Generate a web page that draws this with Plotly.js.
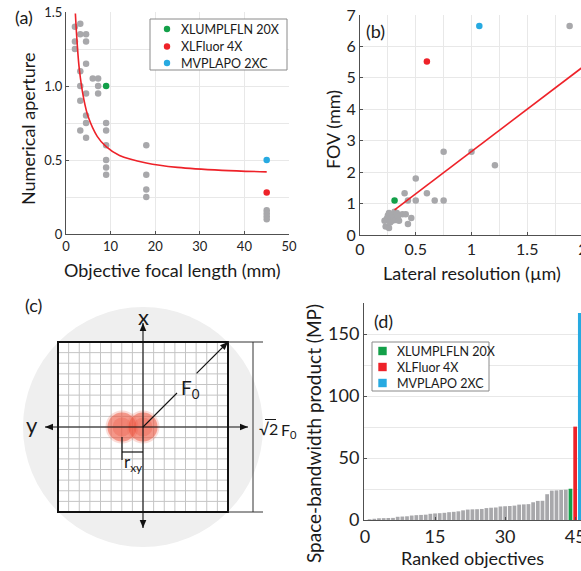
<!DOCTYPE html>
<html>
<head>
<meta charset="utf-8">
<script src="https://cdn.plot.ly/plotly-3.0.1.min.js"></script>
<style>
  html, body { margin: 0; padding: 0; overflow: hidden; background: #fff; }
  #fig { width: 600px; height: 571px; }
</style>
</head>
<body>
<div id="fig"></div>
<script>
// ---------- data ----------
// (a) objective focal length (mm) vs numerical aperture
const focalLength = [2, 2, 2, 3.2, 3.2, 3.2, 3.2, 3.2, 3.2, 4.5, 4.5, 4.5, 4.5, 4.5, 4.5, 4.5,
                     6, 7.2, 7.2, 7.2, 9, 9, 9, 9, 9, 9, 18, 18, 18, 18, 45, 45, 45, 45];
const numAperture = [1.40, 1.30, 1.25, 1.42, 1.35, 1.10, 1.00, 0.90, 0.70, 1.35, 1.30, 1.15, 0.95, 0.80, 0.75, 0.65,
                     1.05, 1.05, 1.00, 0.95, 0.75, 0.70, 0.60, 0.50, 0.45, 0.40, 0.60, 0.40, 0.30, 0.25, 0.16, 0.14, 0.12, 0.10];
const fitFocal = [2.1, 2.5, 3, 4, 5, 7, 9, 12, 18, 25, 35, 45];
const fitNA    = [1.49, 1.29, 1.11, 0.91, 0.79, 0.66, 0.59, 0.53, 0.48, 0.45, 0.43, 0.42];

// (b) lateral resolution (um) vs field of view (mm)
const resolution = [1.88, 0.75, 1.00, 1.21, 0.50, 0.40, 0.60, 0.43, 0.50, 0.67, 0.75,
                    0.23, 0.26, 0.22, 0.24, 0.25, 0.26, 0.28, 0.29, 0.30, 0.31, 0.32, 0.33, 0.34, 0.35, 0.38, 0.41, 0.46, 0.43, 0.27];
const fieldOfView = [6.65, 2.65, 2.65, 2.22, 1.80, 1.33, 1.33, 1.10, 1.10, 1.10, 1.10,
                     0.27, 0.22, 0.45, 0.52, 0.62, 0.70, 0.55, 0.45, 0.62, 0.74, 0.48, 0.70, 0.58, 0.45, 0.66, 0.66, 0.54, 0.35, 0.40];
const fitRes = [0.31, 2.0];
const fitFov = [0.80, 5.35];

// (d) space-bandwidth product (MP), ranked
const sbpRanked = [0.6, 1.0, 1.4, 1.5, 1.6, 1.7, 2.6, 2.8, 3.0, 3.6,
                   3.9, 4.1, 4.3, 5.0, 5.3, 5.5, 5.8, 6.3, 6.6, 7.0,
                   7.8, 8.4, 8.6, 8.7, 8.9, 9.6, 9.9, 10.1, 10.9, 11.1,
                   11.3, 11.6, 12.4, 12.6, 12.8, 14.3, 15.4, 15.5, 20.8, 23.7,
                   23.9, 24.2, 24.4];

// highlighted objectives
const hlNames  = ['XLUMPLFLN 20X', 'XLFluor 4X', 'MVPLAPO 2XC'];
const hlColors = ['#13a049', '#ee2229', '#27aae1'];
const hlFocal  = [9, 45, 45];
const hlNA     = [1.00, 0.28, 0.50];
const hlRes    = [0.31, 0.60, 1.07];
const hlFov    = [1.10, 5.52, 6.65];
const hlSbp    = [25.2, 75.3, 167];

// ---------- figure geometry helpers (pixel -> paper) ----------
const W = 600, H = 571;
const px = x => x / W;
const py = y => (H - y) / H;
const FONT = 'Lato, "Open Sans", sans-serif';
const GRID = '#e8e8e8', AXC = '#505050', GRAY = '#a8a8ab', RED = '#ee2229';

function axisBase(extra) {
  return Object.assign({
    showline: true, linecolor: AXC, linewidth: 1,
    ticks: 'inside', ticklen: 3, tickcolor: AXC,
    showgrid: true, gridcolor: GRID, gridwidth: 1,
    zeroline: false, fixedrange: true,
    tickfont: { size: 13, color: '#222' }
  }, extra);
}

const traces = [];

// (a)
traces.push({ type: 'scatter', mode: 'markers', x: focalLength, y: numAperture, xaxis: 'x', yaxis: 'y',
  marker: { size: 6.5, color: GRAY }, hoverinfo: 'skip' });
traces.push({ type: 'scatter', mode: 'lines', x: fitFocal, y: fitNA, xaxis: 'x', yaxis: 'y',
  line: { color: RED, width: 1.6, shape: 'spline', smoothing: 1 }, hoverinfo: 'skip' });
traces.push({ type: 'scatter', mode: 'markers', x: hlFocal, y: hlNA, xaxis: 'x', yaxis: 'y',
  marker: { size: 6.5, color: hlColors }, hoverinfo: 'skip' });

// (b)
traces.push({ type: 'scatter', mode: 'markers', x: resolution, y: fieldOfView, xaxis: 'x2', yaxis: 'y2',
  marker: { size: 6.5, color: GRAY }, hoverinfo: 'skip' });
traces.push({ type: 'scatter', mode: 'lines', x: fitRes, y: fitFov, xaxis: 'x2', yaxis: 'y2',
  line: { color: RED, width: 1.6 }, hoverinfo: 'skip' });
traces.push({ type: 'scatter', mode: 'markers', x: hlRes, y: hlFov, xaxis: 'x2', yaxis: 'y2',
  marker: { size: 6.5, color: hlColors }, hoverinfo: 'skip' });

// (d)
const grayRanks = sbpRanked.map((_, i) => i + 1);
const hlRanks = hlSbp.map((_, i) => sbpRanked.length + i + 1);
traces.push({ type: 'bar', x: grayRanks, y: sbpRanked, xaxis: 'x3', yaxis: 'y3', width: 0.8,
  marker: { color: GRAY, line: { width: 0 } }, hoverinfo: 'skip' });
traces.push({ type: 'bar', x: hlRanks, y: hlSbp, xaxis: 'x3', yaxis: 'y3', width: 0.8,
  marker: { color: hlColors, line: { width: 0 } }, hoverinfo: 'skip' });

// (c) two neighbouring point-spread spots: soft halo, body and bright core
const spotX = [122, 143], spotY = [427, 427];
const spotLayers = [[33, 'rgba(240,110,90,0.35)'], [29, 'rgba(238,84,62,0.72)'], [19, 'rgba(236,70,50,0.35)']];
spotX.forEach((sx, k) => {
  traces.push({ type: 'scatter', mode: 'markers', xaxis: 'x4', yaxis: 'y4',
    x: spotLayers.map(() => sx), y: spotLayers.map(() => spotY[k]),
    marker: { size: spotLayers.map(l => l[0]), color: spotLayers.map(l => l[1]), line: { width: 0 } },
    hoverinfo: 'skip' });
});

// ---------- shapes & annotations in pixel space (x4/y4) ----------
const shapes = [];
const annotations = [];
const pxShape = s => Object.assign({ xref: 'x4', yref: 'y4' }, s);
const pxLine = (x0, y0, x1, y1, color, width, layer) =>
  shapes.push(pxShape({ type: 'line', x0, y0, x1, y1, line: { color, width }, layer: layer || 'above' }));
const pxText = (x, y, text, size, opts) =>
  annotations.push(Object.assign({ xref: 'x4', yref: 'y4', x, y, text, showarrow: false,
    font: { family: FONT, size, color: '#1a1a1a' }, xanchor: 'center', yanchor: 'middle' }, opts || {}));
// filled arrow head with its tip at (tx, ty), pointing along (dx, dy)
function arrowHead(tx, ty, dx, dy) {
  const n = Math.hypot(dx, dy), ux = dx / n, uy = dy / n;
  const len = 8, hw = 3.3;
  const bx = tx - ux * len, by = ty - uy * len;
  const p1 = [bx - uy * hw, by + ux * hw], p2 = [bx + uy * hw, by - ux * hw];
  shapes.push(pxShape({ type: 'path', path: `M${tx},${ty} L${p1[0]},${p1[1]} L${p2[0]},${p2[1]} Z`,
    fillcolor: '#111', line: { width: 0 }, layer: 'above' }));
}
function pxArrow(x0, y0, x1, y1, both) {
  pxLine(x0, y0, x1, y1, '#111', 1.1);
  arrowHead(x1, y1, x1 - x0, y1 - y0);
  if (both) arrowHead(x0, y0, x0 - x1, y0 - y1);
}

// panel (c): field of view schematic
const cx = 143, cy = 427, half = 85, fovR = 120, cells = 16;
shapes.push(pxShape({ type: 'circle', x0: cx - fovR, x1: cx + fovR, y0: cy - fovR, y1: cy + fovR,
  fillcolor: '#efefef', line: { width: 0 }, layer: 'below' }));
shapes.push(pxShape({ type: 'rect', x0: cx - half, x1: cx + half, y0: cy - half, y1: cy + half,
  fillcolor: '#ffffff', line: { width: 0 }, layer: 'below' }));
for (let i = 1; i < cells; i++) {
  const t = cx - half + (2 * half) * i / cells;
  const u = cy - half + (2 * half) * i / cells;
  shapes.push(pxShape({ type: 'line', x0: t, x1: t, y0: cy - half, y1: cy + half, line: { color: '#c4c4c4', width: 1 }, layer: 'below' }));
  shapes.push(pxShape({ type: 'line', x0: cx - half, x1: cx + half, y0: u, y1: u, line: { color: '#c4c4c4', width: 1 }, layer: 'below' }));
}
shapes.push(pxShape({ type: 'rect', x0: cx - half, x1: cx + half, y0: cy - half, y1: cy + half,
  line: { color: '#111', width: 2 }, layer: 'above' }));
// axes through the centre
pxArrow(45, cy, 248, cy, true);
pxArrow(cx, 528, cx, 323, true);
pxText(143, 316, 'x', 22);
pxText(32, 424, 'y', 22);
// half-diagonal F0, broken around its label
pxLine(cx, cy, cx + 0.4 * half, cy - 0.4 * half, '#111', 1.1);
pxArrow(cx + 0.63 * half, cy - 0.63 * half, cx + half, cy - half, false);
pxText(190, 389, 'F<sub>0</sub>', 19);
// resolution bracket
pxLine(122, 437, 122, 460, '#111', 1.2);
pxLine(122, 452, 143, 452, '#111', 1.2);
pxText(133, 463, 'r<sub>xy</sub>', 17);
// side dimension
pxLine(253, cy - half, 253, cy + half, '#333', 1);
pxLine(cx + half, cy - half, 263, cy - half, '#333', 1);
pxLine(cx + half, cy + half, 263, cy + half, '#333', 1);
pxText(257, 428, '√2', 16, { xanchor: 'left' });
pxText(279, 430, 'F<sub>0</sub>', 16, { xanchor: 'left' });
pxLine(265, 419.5, 276, 419.5, '#1a1a1a', 1);

// legends
function legendBox(x0, y0, x1, y1, rows, markerKind, mx, tx) {
  shapes.push(pxShape({ type: 'rect', x0, y0, x1, y1, fillcolor: '#fff', line: { color: '#8a8a8a', width: 1 }, layer: 'above' }));
  rows.forEach((ry, i) => {
    if (markerKind === 'circle') {
      shapes.push(pxShape({ type: 'circle', x0: mx - 3.2, x1: mx + 3.2, y0: ry - 3.2, y1: ry + 3.2,
        fillcolor: hlColors[i], line: { width: 0 }, layer: 'above' }));
    } else {
      shapes.push(pxShape({ type: 'rect', x0: mx - 4.2, x1: mx + 4.2, y0: ry - 4.2, y1: ry + 4.2,
        fillcolor: hlColors[i], line: { width: 0 }, layer: 'above' }));
    }
    pxText(tx, ry, hlNames[i], 12.5, { xanchor: 'left' });
  });
}
legendBox(150, 19, 287, 70, [29, 46.5, 63], 'circle', 167, 179);
legendBox(372, 342, 489, 391, [351, 367, 383], 'square', 382.5, 395);

// panel letters
pxText(24, 17, '(a)', 18);
pxText(375, 31, '(b)', 18);
pxText(33, 305, '(c)', 18);
pxText(383, 321, '(d)', 18);

// axis titles
pxText(172, 270, 'Objective focal length (mm)', 18);
pxText(28, 129, 'Numerical aperture', 18, { textangle: -90 });
pxText(472, 273, 'Lateral resolution (µm)', 18);
pxText(333, 130, 'FOV (mm)', 18, { textangle: -90 });
pxText(472, 558, 'Ranked objectives', 18);
pxText(313, 434, 'Space-bandwidth product (MP)', 19, { textangle: -90 });

const layout = {
  width: W, height: H, margin: { l: 0, r: 0, t: 0, b: 0 },
  paper_bgcolor: '#fff', plot_bgcolor: 'rgba(0,0,0,0)',
  showlegend: false, barmode: 'overlay',
  font: { family: FONT, color: '#222' },
  // (a)
  xaxis: axisBase({ domain: [px(66), px(289)], range: [0, 50], tickvals: [0, 10, 20, 30, 40, 50], anchor: 'y' }),
  yaxis: axisBase({ domain: [py(234), py(12)], range: [0, 1.5], tickvals: [0, 0.5, 1, 1.5], ticktext: ['0', '0.5', '1.0', '1.5'],
    minor: { tickmode: 'linear', tick0: 0, dtick: 0.25, showgrid: true, gridcolor: GRID, ticks: '' }, anchor: 'x' }),
  // (b)
  xaxis2: axisBase({ domain: [px(360), px(583)], range: [0, 2], tickvals: [0, 0.5, 1, 1.5, 2], ticktext: ['0', '0.5', '1', '1.5', '2'],
    minor: { tickmode: 'linear', tick0: 0, dtick: 0.25, showgrid: true, gridcolor: GRID, ticks: '' }, anchor: 'y2', tickfont: { size: 16, color: '#222' } }),
  yaxis2: axisBase({ domain: [py(235), py(15)], range: [0, 7], dtick: 1, tick0: 0, anchor: 'x2', tickfont: { size: 16, color: '#222' } }),
  // (d)
  xaxis3: axisBase({ domain: [px(364), px(583)], range: [-0.21, 46.68], tickvals: [0, 15, 30, 45], showgrid: false, anchor: 'y3',
    tickfont: { size: 18, color: '#222' } }),
  yaxis3: axisBase({ domain: [py(520), py(303)], range: [0, 175], tickvals: [0, 50, 100, 150],
    minor: { tickmode: 'linear', tick0: 0, dtick: 25, showgrid: true, gridcolor: GRID, ticks: '' }, anchor: 'x3',
    tickfont: { size: 18, color: '#222' } }),
  // pixel-space overlay for the schematic and legends
  xaxis4: { domain: [0, 1], range: [0, W], visible: false, fixedrange: true, anchor: 'y4' },
  yaxis4: { domain: [0, 1], range: [H, 0], visible: false, fixedrange: true, anchor: 'x4' },
  shapes, annotations
};

Plotly.newPlot('fig', traces, layout, { displayModeBar: false, staticPlot: true });
</script>
</body>
</html>
